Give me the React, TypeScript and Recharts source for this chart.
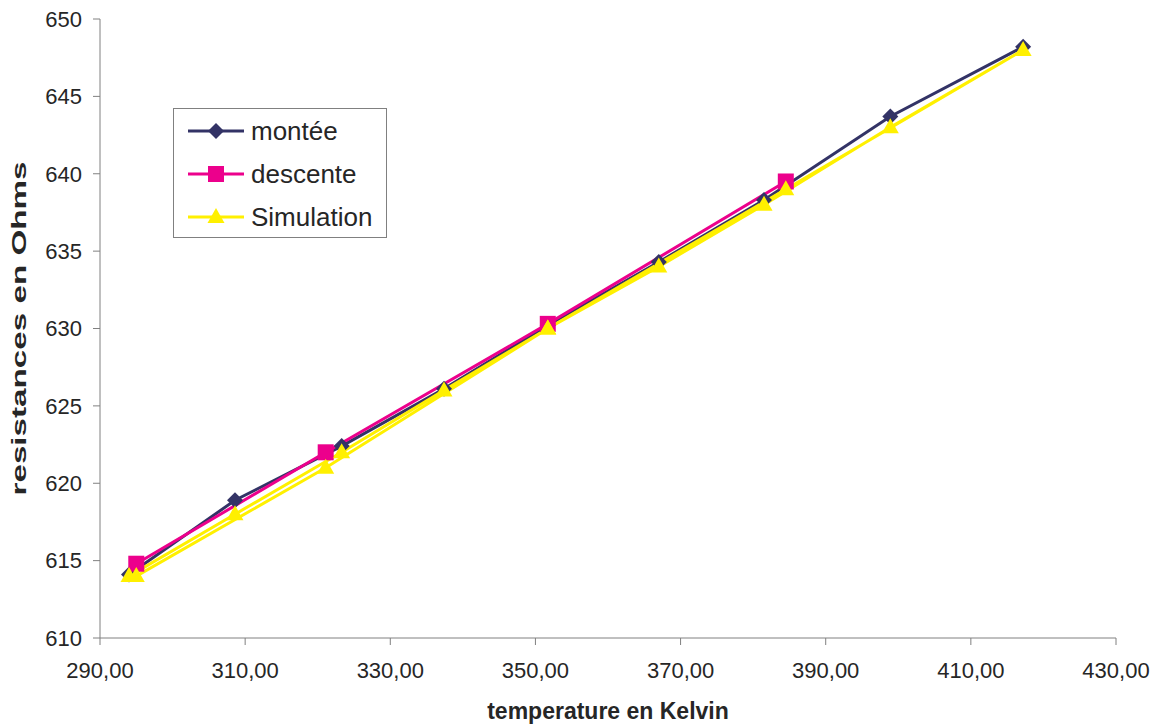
import { LineChart, Line, XAxis, YAxis, Legend, Label } from "recharts";

// montée (heating) points
const monteeT = [294.0, 308.6, 323.3, 337.4, 351.7, 367.0, 381.5, 398.9, 417.2];
const monteeR = [614.1, 618.9, 622.4, 626.1, 630.2, 634.3, 638.3, 643.7, 648.2];

// descente (cooling) points
const descenteT = [295.0, 321.1, 351.7, 384.5];
const descenteR = [614.8, 622.0, 630.3, 639.5];

// simulation: montée temperatures going up, then descente temperatures coming back
const simT = [294.0, 308.6, 323.3, 337.4, 351.7, 367.0, 381.5, 398.9, 417.2, 384.5, 351.7, 321.1, 295.0];
const simR = [614, 618, 622, 626, 630, 634, 638, 643, 648, 639, 630, 621, 614];

const xTicks = [290, 310, 330, 350, 370, 390, 410, 430];
const yTicks = [610, 615, 620, 625, 630, 635, 640, 645, 650];

const toRows = (t: number[], r: number[]) => t.map((v, i) => ({ t: v, r: r[i] }));

const montee = toRows(monteeT, monteeR);
const descente = toRows(descenteT, descenteR);
const simulation = toRows(simT, simR);

const NAVY = "#333366";
const PINK = "#EC008C";
const YELLOW = "#FFF000";
const FONT = "'Liberation Sans', Arial, sans-serif";
const TEXT = "#262626";
const AXIS = "#808080";

type Shape = "diamond" | "square" | "triangle";

function marker(shape: Shape, cx: number, cy: number, color: string, key?: string | number) {
  if (shape === "diamond") {
    return <path key={key} d={`M${cx},${cy - 8}L${cx + 8},${cy}L${cx},${cy + 8}L${cx - 8},${cy}Z`} fill={color} />;
  }
  if (shape === "square") {
    return <rect key={key} x={cx - 8} y={cy - 8} width={16} height={16} fill={color} />;
  }
  return <path key={key} d={`M${cx},${cy - 9}L${cx + 8.5},${cy + 6}L${cx - 8.5},${cy + 6}Z`} fill={color} />;
}

const series = [
  { name: "montée", color: NAVY, shape: "diamond" as Shape, data: montee },
  { name: "descente", color: PINK, shape: "square" as Shape, data: descente },
  { name: "Simulation", color: YELLOW, shape: "triangle" as Shape, data: simulation },
];

function LegendBox() {
  return (
    <div
      style={{
        width: 212,
        height: 128,
        border: "1px solid #808080",
        background: "#fff",
        fontFamily: FONT,
        fontSize: 26,
        color: TEXT,
        position: "relative",
      }}
    >
      {series.map((s, i) => (
        <div
          key={s.name}
          style={{ position: "absolute", left: 13, top: 22 + i * 43 - 16, height: 32, display: "flex", alignItems: "center" }}
        >
          <svg width={58} height={32} style={{ display: "block" }}>
            <line x1={1} y1={16} x2={57} y2={16} stroke={s.color} strokeWidth={3} />
            {marker(s.shape, 29, 16, s.color)}
          </svg>
          <span style={{ marginLeft: 6, lineHeight: "32px", whiteSpace: "nowrap" }}>{s.name}</span>
        </div>
      ))}
    </div>
  );
}

export default function App() {
  return (
    <div style={{ position: "absolute", left: 0, top: 0, background: "#fff" }}>
      <LineChart width={1157} height={724} margin={{ top: 19, right: 41, bottom: 0, left: 0 }}>
        <XAxis
          type="number"
          dataKey="t"
          domain={[290, 430]}
          ticks={xTicks}
          allowDataOverflow
          tickFormatter={(v: number) => v.toFixed(2).replace(".", ",")}
          height={86}
          tickSize={7}
          tickMargin={17}
          stroke={AXIS}
          tick={{ fill: TEXT, fontSize: 22, fontFamily: FONT }}
        >
          <Label
            value="temperature en Kelvin"
            position="insideBottom"
            offset={5}
            style={{ fill: TEXT, fontSize: 23, fontWeight: 700, fontFamily: FONT }}
          />
        </XAxis>
        <YAxis
          type="number"
          domain={[610, 650]}
          ticks={yTicks}
          allowDataOverflow
          width={100}
          tickSize={7}
          tickMargin={11}
          stroke={AXIS}
          tick={{ fill: TEXT, fontSize: 22, fontFamily: FONT }}
        >
          <Label
            content={(props: any) => {
              const vb = props.viewBox || { y: 19, height: 619 };
              const cy = vb.y + vb.height / 2;
              return (
                <text
                  x={26}
                  y={cy}
                  transform={`rotate(-90 26 ${cy})`}
                  textAnchor="middle"
                  fill={TEXT}
                  fontSize={21}
                  fontWeight={700}
                  fontFamily={FONT}
                  textLength={334}
                  lengthAdjust="spacingAndGlyphs"
                >
                  resistances en Ohms
                </text>
              );
            }}
          />
        </YAxis>
        <Legend
          layout="vertical"
          align="center"
          verticalAlign="middle"
          wrapperStyle={{ left: 173, top: 108, width: 214, height: 130 }}
          content={() => <LegendBox />}
        />
        {series.map((s) => (
          <Line
            key={s.name}
            name={s.name}
            data={s.data}
            dataKey="r"
            type="linear"
            stroke={s.color}
            strokeWidth={3}
            isAnimationActive={false}
            dot={(p: any) => marker(s.shape, p.cx, p.cy, s.color, p.index)}
            activeDot={false}
          />
        ))}
      </LineChart>
    </div>
  );
}
